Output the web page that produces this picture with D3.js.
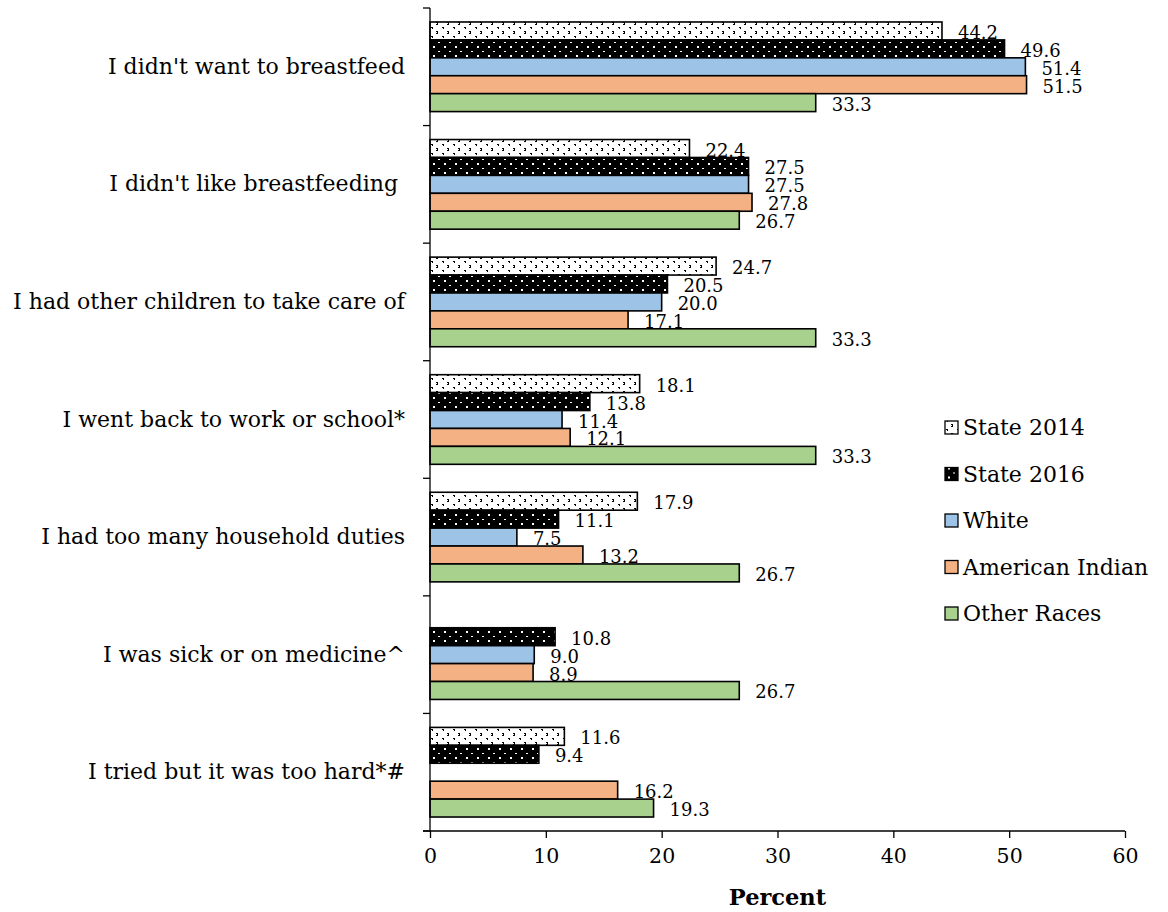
<!DOCTYPE html>
<html>
<head>
<meta charset="utf-8">
<script src="https://cdn.jsdelivr.net/npm/d3@7"></script>
<style>
  html, body { margin: 0; padding: 0; background: #fff; }
  svg { display: block; }
  text { font-family: "DejaVu Serif", "Liberation Serif", serif; fill: #000; }
</style>
</head>
<body>
<svg id="chart" width="1168" height="912"></svg>
<script>
// Reasons for stopping breastfeeding, by group (percent)
const categories = [
  "I didn't want to breastfeed",
  "I didn't like breastfeeding ",
  "I had other children to take care of",
  "I went back to work or school*",
  "I had too many household duties",
  "I was sick or on medicine^",
  "I tried but it was too hard*#"
];
const seriesNames = ["State 2014", "State 2016", "White", "American Indian", "Other Races"];
const state2014      = [44.2, 22.4, 24.7, 18.1, 17.9, null, 11.6];
const state2016      = [49.6, 27.5, 20.5, 13.8, 11.1, 10.8, 9.4];
const white          = [51.4, 27.5, 20.0, 11.4, 7.5, 9.0, null];
const americanIndian = [51.5, 27.8, 17.1, 12.1, 13.2, 8.9, 16.2];
const otherRaces     = [33.3, 26.7, 33.3, 33.3, 26.7, 26.7, 19.3];
const xTicks = [0, 10, 20, 30, 40, 50, 60];

const seriesValues = [state2014, state2016, white, americanIndian, otherRaces];

const svg = d3.select("#chart");
const margin = { left: 430, right: 43, top: 8, bottom: 81 };
const W = 1168, H = 912;
const plotW = W - margin.left - margin.right;
const plotH = H - margin.top - margin.bottom;

// Fill patterns for the two state series
const defs = svg.append("defs");
const p14 = defs.append("pattern").attr("id", "pat2014")
  .attr("patternUnits", "userSpaceOnUse").attr("width", 11).attr("height", 9);
p14.append("rect").attr("width", 11).attr("height", 9).attr("fill", "#fff");
[[1,1,2,1],[2,2,1,1],[6,5,2,1],[7,6,1,1],[6,7,2,1]].forEach(r =>
  p14.append("rect").attr("x", r[0]).attr("y", r[1]).attr("width", r[2]).attr("height", r[3]).attr("fill", "#000"));
const p16 = defs.append("pattern").attr("id", "pat2016")
  .attr("patternUnits", "userSpaceOnUse").attr("width", 11).attr("height", 9);
p16.append("rect").attr("width", 11).attr("height", 9).attr("fill", "#000");
[[3,2,2,2],[8,7,2,1]].forEach(r =>
  p16.append("rect").attr("x", r[0]).attr("y", r[1]).attr("width", r[2]).attr("height", r[3]).attr("fill", "#fff"));

const fills = ["url(#pat2014)", "url(#pat2016)", "#9dc3e6", "#f4b183", "#a9d18e"];

const x = d3.scaleLinear().domain([0, 60]).range([0, plotW]);
const y0 = d3.scaleBand().domain(categories).range([0, plotH]).paddingInner(0).paddingOuter(0);
const y1 = d3.scaleBand().domain(seriesNames).range([0, y0.bandwidth()]).paddingOuter(0.78).paddingInner(0);

const g = svg.append("g").attr("transform", `translate(${margin.left},${margin.top})`);

// Bars
const rows = [];
categories.forEach((c, i) => {
  seriesNames.forEach((s, j) => {
    const v = seriesValues[j][i];
    if (v != null) rows.push({ c, s, v, j });
  });
});

g.selectAll("rect.bar").data(rows).join("rect")
  .attr("class", "bar")
  .attr("x", 0)
  .attr("y", d => y0(d.c) + y1(d.s))
  .attr("width", d => x(d.v))
  .attr("height", y1.bandwidth())
  .attr("fill", d => fills[d.j])
  .attr("stroke", "#000")
  .attr("stroke-width", 1.6);

// Value labels
g.selectAll("text.val").data(rows).join("text")
  .attr("class", "val")
  .attr("x", d => x(d.v) + 16)
  .attr("y", d => y0(d.c) + y1(d.s) + y1.bandwidth() / 2 + 3)
  .attr("dominant-baseline", "middle")
  .attr("font-size", 18)
  .text(d => d.v.toFixed(1));

// Left axis with ticks at category boundaries
g.append("line").attr("x1", 0).attr("x2", 0).attr("y1", 0).attr("y2", plotH)
  .attr("stroke", "#000").attr("stroke-width", 1.3);
const bounds = d3.range(categories.length + 1).map(i => i * y0.step());
g.selectAll("line.ytick").data(bounds).join("line")
  .attr("class", "ytick")
  .attr("x1", -7).attr("x2", 0)
  .attr("y1", d => d).attr("y2", d => d)
  .attr("stroke", "#000").attr("stroke-width", 1.3);

g.selectAll("text.cat").data(categories).join("text")
  .attr("class", "cat")
  .attr("x", -25)
  .attr("y", d => y0(d) + y0.bandwidth() / 2 + 1)
  .attr("text-anchor", "end")
  .attr("dominant-baseline", "middle")
  .attr("font-size", 22)
  .style("white-space", "pre")
  .text(d => d);

// Bottom axis
const xAxis = g.append("g").attr("transform", `translate(0,${plotH})`)
  .call(d3.axisBottom(x).tickValues(xTicks).tickSize(7).tickSizeOuter(0).tickPadding(10));
xAxis.select(".domain").attr("stroke", "#000").attr("stroke-width", 1.3)
  .attr("d", `M-7,0H${plotW}`);
xAxis.selectAll(".tick line").attr("stroke", "#000").attr("stroke-width", 1.3);
xAxis.selectAll(".tick text").attr("font-size", 20.5)
  .attr("font-family", "DejaVu Serif, serif").attr("fill", "#000");

svg.append("text")
  .attr("x", margin.left + plotW / 2)
  .attr("y", 905)
  .attr("text-anchor", "middle")
  .attr("font-size", 22.5)
  .attr("font-weight", "bold")
  .text("Percent");

// Legend
const legend = svg.append("g").attr("transform", "translate(945,428)");
const li = legend.selectAll("g").data(seriesNames).join("g")
  .attr("transform", (d, i) => `translate(0,${i * 46.5})`);
li.append("rect").attr("x", 0).attr("y", -7).attr("width", 13).attr("height", 13)
  .attr("fill", (d, i) => fills[i]).attr("stroke", "#000").attr("stroke-width", 1.3);
li.append("text").attr("x", 18).attr("y", 1)
  .attr("dominant-baseline", "middle")
  .attr("font-size", 22)
  .text(d => d);
</script>
</body>
</html>
